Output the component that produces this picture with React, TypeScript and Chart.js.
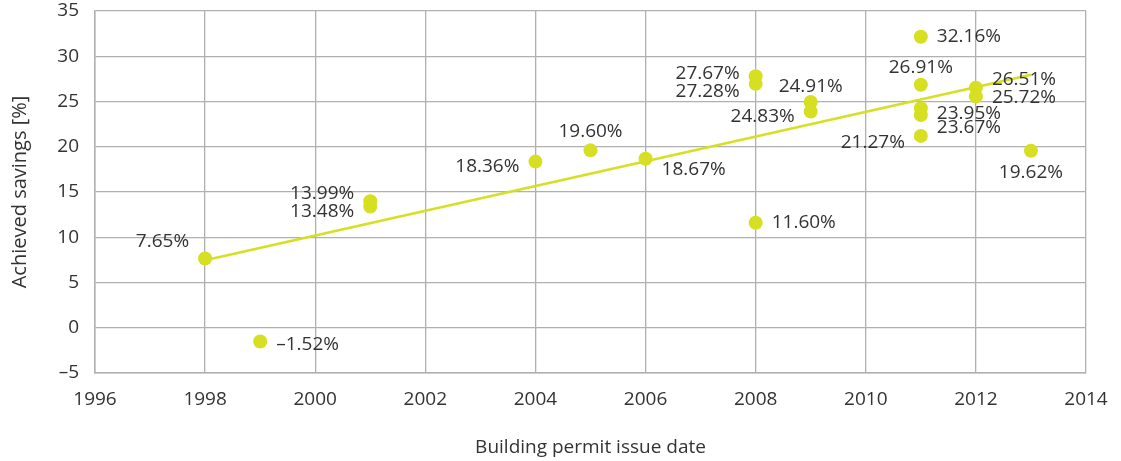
import React, { useEffect, useRef } from "react";
import { Chart, registerables } from "chart.js";

Chart.register(...registerables);

// Data
const years = [1998, 1999, 2001, 2001, 2004, 2005, 2006, 2008, 2008, 2008, 2009, 2009, 2011, 2011, 2011, 2011, 2011, 2012, 2012, 2013];
const savings = [7.65, -1.52, 13.99, 13.4, 18.36, 19.6, 18.67, 27.8, 26.95, 11.6, 24.95, 23.9, 32.16, 26.85, 24.25, 23.5, 21.2, 26.53, 25.55, 19.55];
const pointLabels = ["7.65%", "–1.52%", "13.99%", "13.48%", "18.36%", "19.60%", "18.67%", "27.67%", "27.28%", "11.60%", "24.91%", "24.83%", "32.16%", "26.91%", "23.95%", "23.67%", "21.27%", "26.51%", "25.72%", "19.62%"];
const trendYears = [1998, 2013];
const trendValues = [7.45, 27.95];

// label placement (side, vertical shift) — layout only
const labelSide = ["l", "r", "l", "l", "l", "t", "r", "l", "l", "r", "t", "l", "r", "t", "r", "r", "l", "r", "r", "b"];
const labelShift = [-17, 3, -8, 5, 5, -19, 11, -3, 8, 0, -15, 5, 0, -17, 5, 13, 7, -8, 1, 22];

const GREEN = "#d6df22";
const TEXT = "#333333";
const GRID = "#b0b0b0";
const FONT = "'Open Sans', sans-serif";

const labelPlugin = {
  id: "pointLabels",
  afterDatasetsDraw(chart: any) {
    const meta = chart.getDatasetMeta(0);
    const ctx = chart.ctx;
    ctx.save();
    ctx.font = `19px ${FONT}`;
    ctx.fillStyle = TEXT;
    ctx.textBaseline = "middle";
    meta.data.forEach((el: any, i: number) => {
      const side = labelSide[i];
      const dy = labelShift[i];
      let x = el.x;
      if (side === "l") {
        ctx.textAlign = "right";
        x = el.x - 16;
      } else if (side === "r") {
        ctx.textAlign = "left";
        x = el.x + 16;
      } else {
        ctx.textAlign = "center";
      }
      ctx.fillText(pointLabels[i], x, el.y + dy);
    });
    ctx.restore();
  },
};

export default function App() {
  const ref = useRef<HTMLCanvasElement>(null);
  useEffect(() => {
    const chart = new Chart(ref.current!, {
      type: "scatter",
      data: {
        datasets: [
          {
            type: "scatter",
            data: years.map((x, i) => ({ x, y: savings[i] })),
            backgroundColor: GREEN,
            borderColor: GREEN,
            pointRadius: 7,
            pointHoverRadius: 7,
            borderWidth: 0,
          },
          {
            type: "line",
            data: trendYears.map((x, i) => ({ x, y: trendValues[i] })),
            borderColor: GREEN,
            borderWidth: 2.5,
            pointRadius: 0,
            fill: false,
          } as any,
        ],
      },
      options: {
        animation: false,
        responsive: true,
        maintainAspectRatio: false,
        layout: { padding: { top: 11, right: 35, bottom: 0, left: 0 } },
        plugins: { legend: { display: false }, tooltip: { enabled: false } },
        scales: {
          x: {
            type: "linear",
            min: 1996,
            max: 2014,
            ticks: {
              stepSize: 2,
              padding: 15,
              color: TEXT,
              font: { family: FONT, size: 19 },
              callback: (v: any) => String(v),
            },
            grid: { color: GRID, lineWidth: 1.3, drawTicks: false },
            border: { color: GRID, width: 1.5 },
            title: {
              display: true,
              text: "Building permit issue date",
              color: TEXT,
              font: { family: FONT, size: 19 },
              padding: { top: 0, bottom: 2 },
            },
            afterFit: (s: any) => {
              s.height = 88;
              s.paddingLeft = 0;
              s.paddingRight = 0;
            },
          },
          y: {
            min: -5,
            max: 35,
            ticks: {
              stepSize: 5,
              padding: 16,
              color: TEXT,
              font: { family: FONT, size: 19 },
              callback: (v: any) => String(v).replace("-", "–"),
            },
            grid: { color: GRID, lineWidth: 1.3, drawTicks: false },
            border: { color: GRID, width: 1.5 },
            title: {
              display: true,
              text: "Achieved savings [%]",
              color: TEXT,
              font: { family: FONT, size: 20 },
              padding: { top: 8, bottom: 0 },
            },
            afterFit: (s: any) => {
              s.width = 95;
              s.paddingTop = 0;
              s.paddingBottom = 0;
            },
          },
        },
      },
      plugins: [labelPlugin],
    });
    return () => chart.destroy();
  }, []);
  return (
    <div style={{ position: "fixed", left: 0, top: 0, width: 1121, height: 461, background: "#fff" }}>
      <canvas ref={ref} />
    </div>
  );
}
